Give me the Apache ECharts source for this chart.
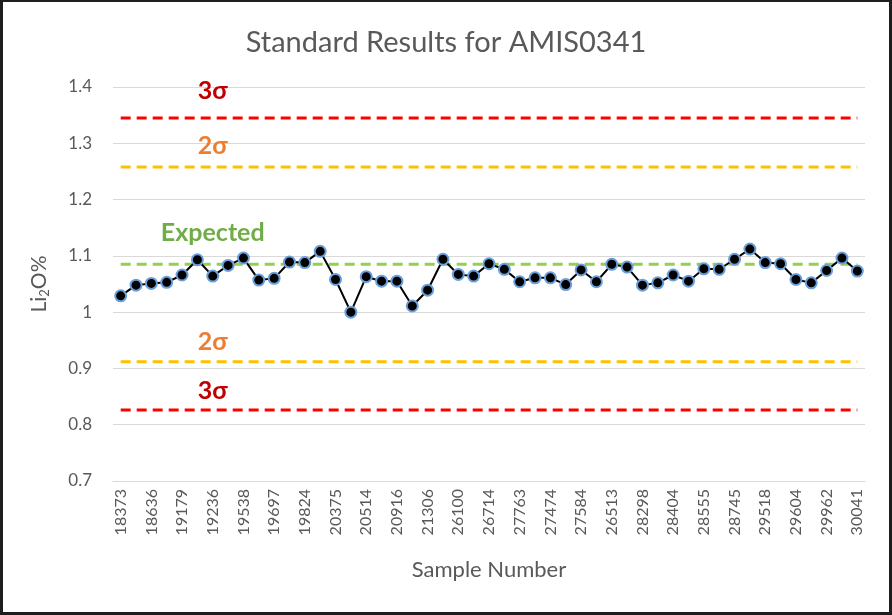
<!DOCTYPE html>
<html><head><meta charset="utf-8">
<script src="https://cdn.jsdelivr.net/npm/echarts@6/dist/echarts.min.js"></script>
<style>
html,body{margin:0;padding:0;background:#fff}
#c{width:892px;height:615px;position:absolute;left:0;top:0}
#f{position:absolute;left:0;top:0;width:892px;height:615px;box-sizing:border-box;border-style:solid;border-color:#1e1e1e;border-width:2px 3px 3px 3px;pointer-events:none}
</style>
</head><body><div id="c"></div><div id="f"></div>
<script>
// Tick labels shown on the x axis (every other sample)
const tickLabels = ['18373','18636','19179','19236','19538','19697','19824','20375','20514','20916','21306','26100','26714','27763','27474','27584','26513','28298','28404','28555','28745','29518','29604','29962','30041'];

// Measured Li2O% values, one per sample (49 samples)
const values = [1.029,1.048,1.051,1.053,1.066,1.093,1.064,1.083,1.096,1.057,
                1.060,1.089,1.088,1.108,1.058,1.000,1.063,1.055,1.055,1.011,
                1.039,1.094,1.067,1.064,1.086,1.076,1.054,1.061,1.061,1.049,
                1.075,1.054,1.085,1.080,1.048,1.052,1.066,1.055,1.077,1.076,
                1.094,1.112,1.088,1.086,1.058,1.052,1.074,1.096,1.073];

// Control limits
const expectedValue = 1.085;
const upper3s = 1.345;
const upper2s = 1.258;
const lower2s = 0.912;
const lower3s = 0.826;

const yTicks = {min: 0.7, max: 1.4, interval: 0.1};

// categories: labelled samples at even positions, unlabelled in between
const categories = values.map((v, i) => (i % 2 === 0 ? tickLabels[i / 2] : ''));

const LABEL_IDX = 6;
const FONT = 'Lato, "Open Sans", sans-serif';

function limitSeries(name, val, lineColor, text, textColor, dist) {
  return {
    name: name, type: 'line', silent: true, z: 1,
    symbol: 'circle', symbolSize: 1, showSymbol: true,
    itemStyle: {color: 'rgba(0,0,0,0)', borderWidth: 0},
    lineStyle: {color: lineColor, width: 3, type: [10, 6]},
    data: categories.map((c, i) => i === LABEL_IDX ? {
      value: val,
      label: {show: true, position: 'top', distance: dist, formatter: text,
              color: textColor, fontSize: 25, fontWeight: 'bold', fontFamily: FONT}
    } : val)
  };
}

const chart = echarts.init(document.getElementById('c'), null, {renderer: 'canvas'});
chart.setOption({
  animation: false,
  backgroundColor: '#fff',
  title: {text: 'Standard Results for AMIS0341', left: 'center', top: 23,
    textStyle: {color: '#595959', fontSize: 29, fontWeight: 'normal', fontFamily: FONT}},
  grid: {left: 113, right: 27, top: 87, bottom: 134},
  xAxis: {
    type: 'category', data: categories, boundaryGap: true,
    name: 'Sample Number', nameLocation: 'middle', nameGap: 78,
    nameTextStyle: {color: '#595959', fontSize: 22, fontFamily: FONT},
    axisLine: {lineStyle: {color: '#d9d9d9', width: 1}},
    axisTick: {show: false},
    axisLabel: {interval: 0, rotate: 90, color: '#595959', fontSize: 16, fontFamily: FONT, margin: 8}
  },
  yAxis: {
    type: 'value', min: yTicks.min, max: yTicks.max, interval: yTicks.interval,
    name: '{a|Li}{s|2}{a|O%}', nameLocation: 'middle', nameGap: 62, nameRotate: 90,
    nameTextStyle: {color: '#595959', fontSize: 21, fontFamily: FONT,
      rich: {a: {fontSize: 21, color: '#595959', fontFamily: FONT},
             s: {fontSize: 13, color: '#595959', fontFamily: FONT, verticalAlign: 'bottom', padding: [10, 0, 0, 0]}}},
    axisLine: {show: false}, axisTick: {show: false},
    axisLabel: {color: '#595959', fontSize: 17, fontFamily: FONT, margin: 21,
      formatter: v => String(Math.round(v * 10) / 10)},
    splitLine: {lineStyle: {color: '#d9d9d9', width: 1}}
  },
  series: [
    limitSeries('upper3s', upper3s, '#ff0000', '3σ', '#c00000', 14),
    limitSeries('upper2s', upper2s, '#ffc000', '2σ', '#ed7d31', 8),
    limitSeries('expected', expectedValue, '#92d050', 'Expected', '#70ad47', 18),
    limitSeries('lower2s', lower2s, '#ffc000', '2σ', '#ed7d31', 7),
    limitSeries('lower3s', lower3s, '#ff0000', '3σ', '#c00000', 6),
    {
      name: 'Li2O%', type: 'line', data: values, z: 5,
      lineStyle: {color: '#000', width: 2},
      symbol: 'circle', symbolSize: 11,
      itemStyle: {color: '#000', borderColor: '#6a9fdc', borderWidth: 2}
    }
  ]
});
</script>
</body></html>
